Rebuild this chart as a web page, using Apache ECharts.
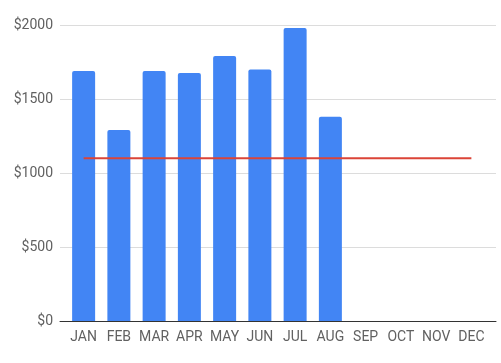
<!DOCTYPE html>
<html><head><meta charset="utf-8">
<script src="https://cdn.jsdelivr.net/npm/echarts@6/dist/echarts.min.js"></script>
<style>html,body{margin:0;padding:0;background:#fff}#c{width:501px;height:363px}</style>
</head><body><div id="c"></div>
<script>
const categories = ['JAN','FEB','MAR','APR','MAY','JUN','JUL','AUG','SEP','OCT','NOV','DEC'];
const spending = [1690, 1290, 1690, 1675, 1790, 1700, 1980, 1380, null, null, null, null];
const budget = [1100, 1100, 1100, 1100, 1100, 1100, 1100, 1100, 1100, 1100, 1100, 1100];
const yTicks = [0, 500, 1000, 1500, 2000];

const chart = echarts.init(document.getElementById('c'), null, {renderer:'canvas'});
const font = 'Roboto, sans-serif';
chart.setOption({
  animation: false,
  grid: [
    {left: 60, right: 5, top: 25, bottom: 42},
    {left: 66, right: 12, top: 25, bottom: 42}
  ],
  xAxis: [
    {gridIndex: 0, type: 'value', min: 0, max: 1, show: true,
     axisLine: {show: true, lineStyle: {color: '#333', width: 1}},
     axisTick: {show: false}, axisLabel: {show: false}, splitLine: {show: false}},
    {gridIndex: 1, type: 'category', data: categories,
     axisLine: {show: false}, axisTick: {show: false},
     axisLabel: {color: '#616161', fontFamily: font, fontSize: 14, margin: 9, interval: 0}}
  ],
  yAxis: [
    {gridIndex: 0, type: 'value', min: yTicks[0], max: yTicks[yTicks.length-1], interval: 500,
     axisLine: {show: false}, axisTick: {show: false},
     axisLabel: {color: '#616161', fontFamily: font, fontSize: 14, margin: 7, formatter: v => '$' + v},
     splitLine: {lineStyle: {color: '#dcdcdc', width: 1}}},
    {gridIndex: 1, type: 'value', min: yTicks[0], max: yTicks[yTicks.length-1], interval: 500,
     show: false, splitLine: {show: false}}
  ],
  series: [
    {type: 'bar', xAxisIndex: 1, yAxisIndex: 1, data: spending, barWidth: 23,
     itemStyle: {color: '#4285F4', borderRadius: [2,2,0,0]}},
    {type: 'line', xAxisIndex: 1, yAxisIndex: 1, data: budget, symbol: 'none',
     lineStyle: {color: '#DB4437', width: 2}, z: 5}
  ]
});
</script></body></html>
